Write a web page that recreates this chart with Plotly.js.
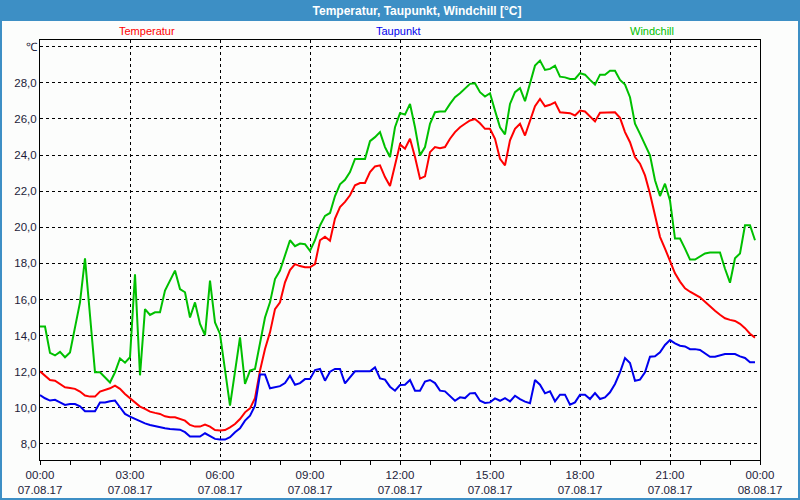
<!DOCTYPE html>
<html>
<head>
<meta charset="utf-8">
<script src="https://cdn.plot.ly/plotly-3.0.1.min.js"></script>
<style>
  html, body { margin: 0; padding: 0; background: #fcfdfc; }
  #chart { width: 800px; height: 500px; }
</style>
</head>
<body>
<div id="chart"></div>
<script>
// readings every 10 minutes, 07.08.17 00:00 .. 23:50
const startTime = new Date(2017, 7, 7, 0, 0);
const stepMinutes = 10;

const seriesNames = ['Temperatur', 'Taupunkt', 'Windchill'];
const seriesColors = ['#ff0000', '#0000ee', '#00c000'];

const temperatur = [
  12.02, 11.78, 11.54, 11.5, 11.32, 11.14, 11.1, 11.05, 10.9, 10.68, 10.62, 10.62,
  10.9, 11.0, 11.08, 11.23, 11.05, 10.77, 10.55, 10.3, 10.07, 9.94, 9.79, 9.72,
  9.66, 9.53, 9.48, 9.48, 9.38, 9.29, 9.05, 8.96, 8.96, 9.07, 8.96, 8.77,
  8.74, 8.77, 8.92, 9.1, 9.38, 9.75, 9.97, 10.53, 12.06, 13.26, 14.18, 15.47,
  15.84, 16.95, 17.63, 17.96, 17.85, 17.78, 17.78, 17.96, 19.28, 19.47, 19.25, 20.48,
  21.12, 21.4, 21.77, 22.32, 22.45, 22.45, 23.06, 23.37, 23.43, 22.78, 22.28, 23.52,
  24.59, 24.35, 24.9, 23.89, 22.69, 22.82, 24.16, 24.44, 24.38, 24.44, 24.9, 25.27,
  25.54, 25.73, 25.91, 25.99, 25.76, 25.45, 25.45, 24.9, 23.79, 23.43, 24.81, 25.45,
  25.73, 25.08, 25.9, 26.7, 27.1, 26.7, 26.78, 26.92, 26.37, 26.34, 26.32, 26.19,
  26.46, 26.41, 26.13, 25.86, 26.34, 26.34, 26.34, 26.37, 26.06, 25.27, 24.71, 23.89,
  23.52, 22.87, 21.86, 20.57, 19.47, 18.82, 18.12, 17.45, 16.99, 16.62, 16.43, 16.29,
  16.12, 15.88, 15.61, 15.37, 15.15, 14.96, 14.87, 14.81, 14.65, 14.41, 14.1, 13.89
];

const taupunkt = [
  10.71, 10.53, 10.4, 10.44, 10.3, 10.16, 10.21, 10.21, 10.08, 9.81, 9.81, 9.81,
  10.3, 10.3, 10.36, 10.4, 10.03, 9.66, 9.51, 9.38, 9.24, 9.14, 9.05, 8.98,
  8.92, 8.87, 8.83, 8.83, 8.79, 8.65, 8.41, 8.41, 8.41, 8.59, 8.42, 8.28,
  8.24, 8.24, 8.37, 8.65, 8.87, 9.29, 9.57, 10.12, 11.84, 11.84, 11.08, 11.14,
  11.2, 11.37, 11.78, 11.28, 11.37, 11.59, 11.59, 12.09, 12.15, 11.5, 12.0, 12.15,
  12.15, 11.35, 11.69, 12.02, 12.02, 12.02, 12.02, 12.24, 11.63, 11.56, 11.17, 10.95,
  11.26, 11.28, 11.54, 10.95, 10.95, 11.45, 11.54, 11.37, 10.95, 10.91, 10.63, 10.39,
  10.58, 10.54, 10.8, 10.82, 10.39, 10.27, 10.3, 10.52, 10.39, 10.54, 10.36, 10.67,
  10.48, 10.34, 10.25, 11.54, 11.28, 10.8, 10.91, 10.36, 10.73, 10.73, 10.17, 10.3,
  10.73, 10.73, 10.49, 10.82, 10.49, 10.58, 10.86, 11.32, 11.96, 12.76, 12.48, 11.5,
  11.56, 11.96, 12.83, 12.85, 13.07, 13.48, 13.75, 13.57, 13.44, 13.4, 13.25, 13.25,
  13.2, 13.01, 12.83, 12.83, 12.92, 12.98, 12.98, 12.98, 12.85, 12.76, 12.52, 12.52
];

const windchill = [
  14.5, 14.5, 13.04, 12.9, 13.1, 12.8, 13.07, 14.45, 15.84, 18.28, 15.3, 11.97,
  11.97, 11.7, 11.4, 11.97, 12.74, 12.5, 12.8, 17.4, 11.8, 15.47, 15.14, 15.29,
  15.29, 16.49, 17.04, 17.6, 16.58, 16.4, 15.0, 15.84, 14.64, 14.03, 17.04, 14.73,
  14.09, 12.11, 10.12, 12.0, 13.9, 11.32, 12.06, 12.15, 13.6, 15.0, 15.84, 17.13,
  17.6, 18.4, 19.28, 18.95, 19.1, 19.06, 18.69, 19.28, 20.1, 20.63, 20.79, 21.73,
  22.38, 22.63, 23.06, 23.78, 23.78, 23.78, 24.77, 24.99, 25.27, 24.44, 23.89, 25.54,
  26.32, 26.24, 26.83, 25.54, 23.98, 24.44, 25.73, 26.37, 26.41, 26.41, 26.83, 27.2,
  27.42, 27.7, 27.94, 27.97, 27.48, 27.24, 27.42, 26.46, 25.54, 25.14, 26.83, 27.48,
  27.7, 26.98, 27.9, 28.95, 29.23, 28.71, 28.77, 28.95, 28.34, 28.3, 28.21, 28.21,
  28.53, 28.45, 28.16, 27.9, 28.45, 28.45, 28.67, 28.67, 28.16, 27.9, 27.2, 25.73,
  25.17, 24.62, 23.98, 22.6, 21.73, 22.41, 21.49, 19.37, 19.37, 18.82, 18.21, 18.21,
  18.36, 18.55, 18.6, 18.6, 18.6, 17.7, 16.93, 18.28, 18.55, 20.11, 20.11, 19.28
];

const xTickVals = ['2017-08-07 00:00', '2017-08-07 03:00', '2017-08-07 06:00', '2017-08-07 09:00',
  '2017-08-07 12:00', '2017-08-07 15:00', '2017-08-07 18:00', '2017-08-07 21:00', '2017-08-08 00:00'];
const xTickText = ['00:00<br>07.08.17', '03:00<br>07.08.17', '06:00<br>07.08.17', '09:00<br>07.08.17',
  '12:00<br>07.08.17', '15:00<br>07.08.17', '18:00<br>07.08.17', '21:00<br>07.08.17', '00:00<br>08.08.17'];
const yTickVals = [8, 10, 12, 14, 16, 18, 20, 22, 24, 26, 28, 30];
const yUnitLabel = '℃';

function pad(n) { return String(n).padStart(2, '0'); }
const times = temperatur.map((_, i) => {
  const d = new Date(startTime.getTime() + i * stepMinutes * 60000);
  return `${d.getFullYear()}-${pad(d.getMonth() + 1)}-${pad(d.getDate())} ${pad(d.getHours())}:${pad(d.getMinutes())}`;
});

const values = [temperatur, taupunkt, windchill];
// windchill drawn first so red/blue lie on top like in the original
const order = [2, 0, 1];
const traces = order.map(i => ({
  type: 'scatter',
  mode: 'lines',
  name: seriesNames[i],
  x: times,
  y: values[i],
  line: { color: seriesColors[i], width: 2 },
  showlegend: false,
  hoverinfo: 'x+y'
}));

const yTickText = yTickVals.map(v => v === 30 ? yUnitLabel : v.toFixed(1).replace('.', ','));

const legendX = [0.1486, 0.4986, 0.85];
const annotations = seriesNames.map((name, i) => ({
  xref: 'paper', yref: 'paper',
  x: legendX[i], y: 1 + 9 / 420,
  text: name,
  showarrow: false,
  xanchor: 'center', yanchor: 'middle',
  font: { family: 'Liberation Sans, Arial, sans-serif', size: 11, color: seriesColors[i] }
}));

const axisFont = { family: 'Liberation Sans, Arial, sans-serif', size: 11.5, color: '#1c1c3a' };

Plotly.newPlot('chart', traces, {
  width: 800,
  height: 500,
  margin: { l: 40, r: 40, t: 40, b: 40 },
  paper_bgcolor: '#fcfdfc',
  plot_bgcolor: '#fcfdfc',
  title: {
    text: 'Temperatur, Taupunkt, Windchill [°C]',
    xref: 'paper', x: (417 - 40) / 720, xanchor: 'center',
    yref: 'container', y: 1 - 10.5 / 500, yanchor: 'middle',
    font: { family: 'Liberation Sans, Arial, sans-serif', size: 12, color: '#ffffff', weight: 'bold' }
  },
  shapes: [
    // title bar
    { type: 'rect', xref: 'paper', yref: 'paper', layer: 'below',
      x0: -40 / 720, x1: 1 + 40 / 720, y0: 1 + 19 / 420, y1: 1 + 40 / 420,
      fillcolor: '#3d8fc5', line: { width: 0 } },
    // window border
    { type: 'rect', xref: 'paper', yref: 'paper', layer: 'above',
      x0: -40 / 720, x1: 1 + 40 / 720, y0: -40 / 420, y1: 1 + 40 / 420,
      fillcolor: 'rgba(0,0,0,0)', line: { color: '#3d8fc5', width: 4 } }
  ],
  annotations: annotations,
  xaxis: {
    type: 'date',
    range: ['2017-08-07 00:00', '2017-08-08 00:00'],
    tickmode: 'array',
    tickvals: xTickVals,
    ticktext: xTickText,
    tickfont: axisFont,
    ticks: 'outside', ticklen: 4, tickwidth: 1, tickcolor: '#000',
    minor: { dtick: 3600000, ticks: 'outside', ticklen: 4, tickcolor: '#000', showgrid: false },
    showgrid: true, gridcolor: '#000', gridwidth: 1, griddash: '3px,3px',
    showline: true, linecolor: '#000', linewidth: 1, mirror: true,
    zeroline: false,
    fixedrange: true
  },
  yaxis: {
    range: [7.11, 30.37],
    tickmode: 'array',
    tickvals: yTickVals,
    ticktext: yTickText,
    tickfont: axisFont,
    ticks: '',
    showgrid: true, gridcolor: '#000', gridwidth: 1, griddash: '3px,3px',
    showline: true, linecolor: '#000', linewidth: 1, mirror: true,
    zeroline: false,
    fixedrange: true
  }
}, { displayModeBar: false });
</script>
</body>
</html>
